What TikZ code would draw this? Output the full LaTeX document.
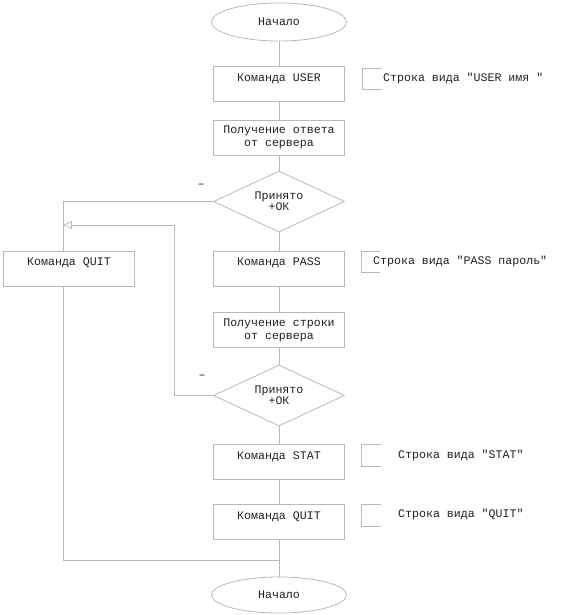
\documentclass[tikz,border=0pt]{standalone}
\usepackage{fontspec}
\setmonofont{Liberation Mono}
\usetikzlibrary{shapes.geometric,arrows.meta}
\definecolor{linegray}{HTML}{B8B8B8}
\definecolor{txt}{HTML}{202020}
\tikzset{
  every node/.style={text=txt, font=\ttfamily\fontsize{11.6}{13}\selectfont},
  conn/.style={draw=linegray, line width=0.8pt},
  term/.style={ellipse, draw=linegray, line width=0.8pt, minimum width=135pt, minimum height=38pt, inner sep=0pt},
  procbox/.style={rectangle, draw=linegray, line width=0.8pt, minimum width=131pt, minimum height=35pt, inner sep=0pt, align=center},
  decide/.style={diamond, draw=linegray, line width=0.8pt, aspect=2.15, minimum width=131pt, minimum height=61pt, inner sep=0pt, align=center, font=\ttfamily\fontsize{11.6}{11}\selectfont},
  note/.style={anchor=west, inner sep=0pt},
  minus/.style={inner sep=0pt}
}
\begin{document}
\begin{tikzpicture}[x=1pt, y=-1pt]
\useasboundingbox (0,0) rectangle (564,615);
\node[term] (start) at (279,22) {Начало};
\node[procbox] (user) at (279,84) {Команда USER\\\mbox{}};
\node[procbox] (resp1) at (279,137.5) {Получение ответа\\от сервера};
\node[decide] (d1) at (279,201.5) {Принято\\+ОК};
\node[procbox] (quit1) at (69,268.5) {Команда QUIT\\\mbox{}};
\node[procbox] (pass) at (279,268.5) {Команда PASS\\\mbox{}};
\node[procbox] (resp2) at (279,330) {Получение строки\\от сервера};
\node[decide] (d2) at (279,395.5) {Принято\\+ОК};
\node[procbox] (stat) at (279,462) {Команда STAT\\\mbox{}};
\node[procbox] (quit2) at (279,522) {Команда QUIT\\\mbox{}};
\node[term, minimum height=36pt] (stop) at (279,595) {Начало};
\node[minus] (m1) at (201,186) {–};
\node[minus] (m2) at (202,377) {–};
\node[note] (n1) at (383,79) {Строка вида "USER имя "};
\node[note] (n2) at (373,261) {Строка вида "PASS пароль"};
\node[note] (n3) at (398,455) {Строка вида "STAT"};
\node[note] (n4) at (398,514) {Строка вида "QUIT"};
\coordinate (q1top) at (63,251);
\coordinate (q1bot) at (63,286);
\coordinate (ret) at (63,225);
\coordinate (join) at (279,560);
\coordinate (bend) at (174,225);
% main flow
\draw[conn] (start) -- (user);
\draw[conn] (user) -- (resp1);
\draw[conn] (resp1) -- (d1);
\draw[conn] (d1) -- (pass);
\draw[conn] (pass) -- (resp2);
\draw[conn] (resp2) -- (d2);
\draw[conn] (d2) -- (stat);
\draw[conn] (stat) -- (quit2);
\draw[conn] (quit2) -- (stop);
% no branches
\draw[conn] (d1.west) -| (q1top);
\draw[conn, -{Triangle[open, length=9pt, width=8pt]}] (d2.west) -| (bend) -- (ret);
\draw[conn] (q1bot) |- (join);
% annotation brackets
\draw[conn] (382,68) -- (362,68) -- (362,89) -- (382,89);
\draw[conn] (380,251) -- (361,251) -- (361,272) -- (380,272);
\draw[conn] (381,444) -- (361,444) -- (361,466) -- (381,466);
\draw[conn] (381,504) -- (361,504) -- (361,526) -- (381,526);
\end{tikzpicture}
\end{document}
